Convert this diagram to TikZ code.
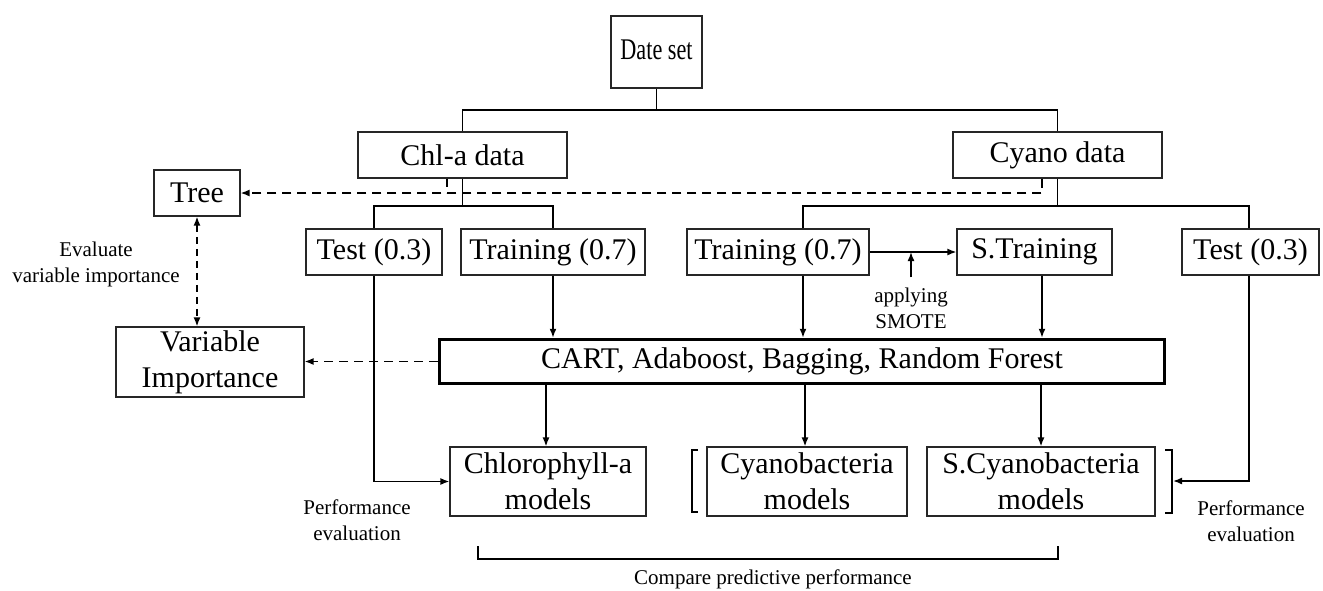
\documentclass[tikz,border=0pt]{standalone}
\usepackage{fontspec}
\usepackage{graphicx}
\setmainfont{Liberation Serif}
\usetikzlibrary{arrows.meta}
\begin{document}
\begin{tikzpicture}[x=1pt,y=-1pt,
  box/.style={draw=black!85,line width=1.1pt,inner sep=0pt,font=\fontsize{30}{36}\selectfont,align=center},
  thickbox/.style={box,draw=black,line width=3.5pt},
  conn/.style={line width=1.6pt},
  arr/.style={conn,-{Latex[length=9pt,width=7pt]}},
  dsh/.style={line width=1.6pt,dash pattern=on 9pt off 6pt},
  lbl/.style={font=\fontsize{21}{26}\selectfont,align=center,inner sep=0pt}]
\useasboundingbox (0,0) rectangle (1323,590);

% boxes
\node[box,minimum width=91,minimum height=72,text depth=0pt] (date) at (656.5,52) {\raisebox{4pt}{\scalebox{0.74}[1]{Date set}}};
\node[box,minimum width=209,minimum height=46] (chl) at (462.5,155) {Chl-a data};
\node[box,minimum width=209,minimum height=46] (cyano) at (1057.5,155) {Cyano data};
\node[box,minimum width=86,minimum height=46] (tree) at (197,193) {Tree};
\node[box,minimum width=136,minimum height=46] (test1) at (374,252) {Test (0.3)};
\node[box,minimum width=184,minimum height=46] (train1) at (553,252) {Training (0.7)};
\node[box,minimum width=182,minimum height=46] (train2) at (778,252) {Training (0.7)};
\node[box,minimum width=155,minimum height=46] (strain) at (1034.5,252) {S.Training};
\node[box,minimum width=137,minimum height=46] (test2) at (1250.5,252) {Test (0.3)};
\node[box,minimum width=188,minimum height=70] (varimp) at (210,362) {Variable\\Importance};
\node[thickbox,minimum width=725,minimum height=44] (cart) at (802,361.5) {CART, Adaboost, Bagging, Random Forest};
\node[box,minimum width=196,minimum height=69] (chlm) at (548,481.5) {Chlorophyll-a\\models};
\node[box,minimum width=200,minimum height=69] (cyam) at (807,481.5) {Cyanobacteria\\models};
\node[box,minimum width=228,minimum height=69] (scyam) at (1041,481.5) {S.Cyanobacteria\\models};

% labels
\node[lbl] (evl) at (96,264) {Evaluate\\variable importance};
\node[lbl] (smote) at (911,308) {applying\\SMOTE};
\node[lbl] (pel) at (357,520) {Performance\\evaluation};
\node[lbl] (per) at (1251,521) {Performance\\evaluation};
\node[lbl] (cmp) at (773,579) {Compare predictive performance};

% tree structure
\coordinate (b0) at (656.5,110);
\draw[conn] (date.south) -- (b0);
\draw[conn] (chl.north) |- (b0) -| (cyano.north);

\coordinate (b1) at (462.5,206);
\draw[conn] (chl.south) -- (b1);
\draw[conn] (test1.north) |- (b1) -| (train1.north);

\coordinate (b2) at (1057.5,206);
\coordinate (t2in) at ([xshift=25]train2.north);
\draw[conn] (cyano.south) -- (b2);
\draw[conn] (t2in) |- (b2) -| ([xshift=-1.5]test2.north);

% dashed to tree
\draw[dsh,-{Latex[length=9pt,width=7pt]}] ([xshift=-15.5]cyano.south) |- (tree.east);
\draw[dsh,dash pattern=on 8pt off 6pt] ([xshift=-15.5]chl.south) -- ++(0,14);
\draw[line width=1.6pt,dash pattern=on 7pt off 5pt,{Latex[length=9pt,width=7pt]}-{Latex[length=9pt,width=7pt]}] (tree.south) -- (tree.south |- varimp.north);
\draw[dsh,-{Latex[length=9pt,width=7pt]}] (cart.west) -- (varimp.east |- cart.west);

% training to CART
\draw[arr] (train1.south) -- (train1.south |- cart.north);
\draw[arr] ([xshift=25]train2.south) -- ([xshift=25]train2.south |- cart.north);
\draw[arr] ([xshift=7.5]strain.south) -- ([xshift=7.5]strain.south |- cart.north);
\draw[arr] (train2.east) -- (strain.west);
\draw[arr] ([yshift=10]smote.north) -- (smote.north |- train2.east);

% CART to models
\draw[arr] ([xshift=-2]chlm.north |- cart.south) -- ([xshift=-2]chlm.north);
\draw[arr] ([xshift=-2]cyam.north |- cart.south) -- ([xshift=-2]cyam.north);
\draw[arr] (scyam.north |- cart.south) -- (scyam.north);

% test to models
\draw[arr] (test1.south) |- (chlm.west);
\coordinate (rb) at (1173,481);
\draw[arr] ([xshift=-1.5]test2.south) |- (rb);

% brackets
\draw[conn] (698,450) -- (692,450) -- (692,512) -- (698,512);
\draw[conn] (1165,450) -- (1172,450) -- (1172,513) -- (1165,513);
\draw[conn] (478,546) -- (478,559) -- (1058,559) -- (1058,546);
\end{tikzpicture}
\end{document}
